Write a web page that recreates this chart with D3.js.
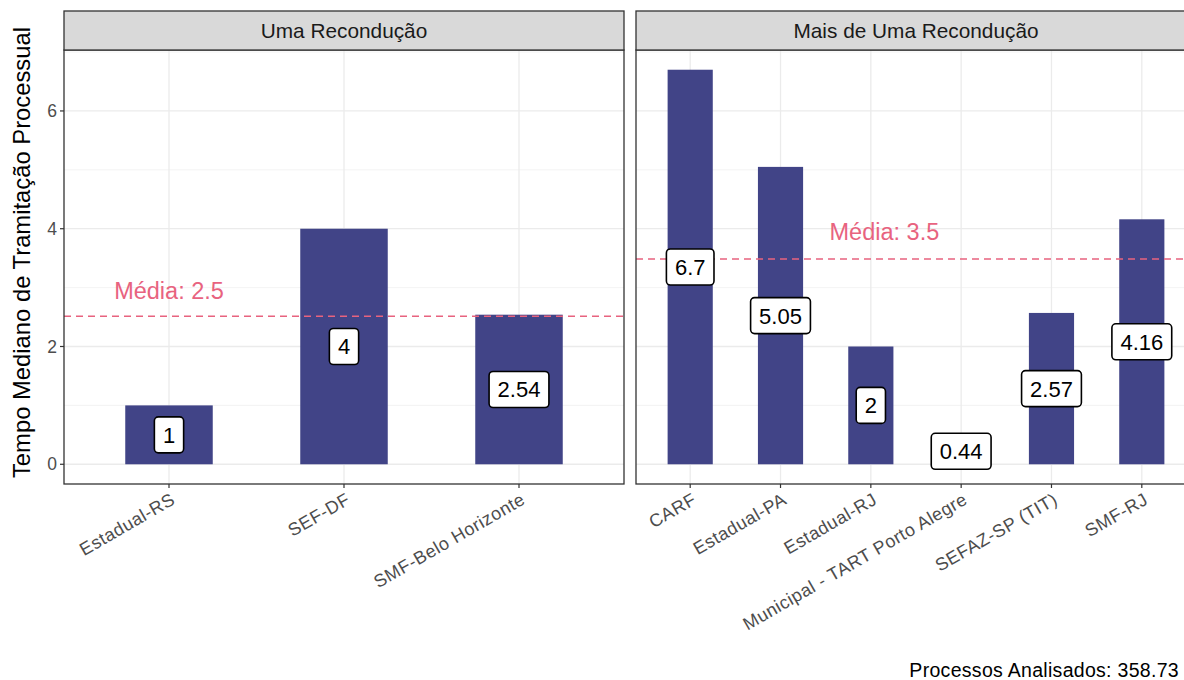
<!DOCTYPE html>
<html>
<head>
<meta charset="utf-8">
<script src="https://cdn.jsdelivr.net/npm/d3@7"></script>
<style>
  html, body { margin: 0; padding: 0; background: #ffffff; }
  svg { display: block; font-family: "Liberation Sans", Arial, sans-serif; }
</style>
</head>
<body>
<svg id="chart" width="1184" height="680"></svg>
<script>
// ---- data ----
const panelTitles = ["Uma Recondução", "Mais de Uma Recondução"];
const categoriesA = ["Estadual-RS", "SEF-DF", "SMF-Belo Horizonte"];
const valuesA = [1, 4, 2.54];
const categoriesB = ["CARF", "Estadual-PA", "Estadual-RJ", "Municipal - TART Porto Alegre", "SEFAZ-SP (TIT)", "SMF-RJ"];
const valuesB = [6.7, 5.05, 2, 0.44, 2.57, 4.16];
const meanLabelX = [1, 3.15];
const meanLabelY = [2.95, 3.95];
const yTicks = [0, 2, 4, 6];
const yMinor = [1, 3, 5, 7];
const yTitle = "Tempo Mediano de Tramitação Processual";
const caption = "Processos Analisados: 358.73";

// ---- layout ----
const svg = d3.select("#chart");
const panelTop = 50, panelBottom = 484, stripTop = 11;
const panelX = [[64, 624], [636, 1196]];
const barColor = "#414487";
const meanColor = "#E8637F";

const y = d3.scaleLinear().domain([-0.335, 7.035]).range([panelBottom, panelTop]);

const panels = [
  {title: panelTitles[0], cats: categoriesA, vals: valuesA, lx: meanLabelX[0], ly: meanLabelY[0]},
  {title: panelTitles[1], cats: categoriesB, vals: valuesB, lx: meanLabelX[1], ly: meanLabelY[1]}
];

panels.forEach((p, i) => {
  const [x0, x1] = panelX[i];
  const n = p.cats.length;
  const x = d3.scaleBand().domain(p.cats).range([x0, x1]).paddingInner(0.5).paddingOuter(0.35);
  const xLin = d3.scaleLinear().domain([0.4, n + 0.6]).range([x0, x1]);
  const g = svg.append("g");
  const cx = c => x(c) + x.bandwidth() / 2;

  g.append("rect").attr("x", x0).attr("y", panelTop).attr("width", x1 - x0).attr("height", panelBottom - panelTop).attr("fill", "#fff");

  // minor grid
  g.selectAll(".ymin").data(yMinor.filter(v => y(v) > panelTop)).join("line")
    .attr("x1", x0).attr("x2", x1).attr("y1", d => y(d)).attr("y2", d => y(d))
    .attr("stroke", "#f0f0f0").attr("stroke-width", 0.8);
  // major grid
  g.selectAll(".ymaj").data(yTicks).join("line")
    .attr("x1", x0).attr("x2", x1).attr("y1", d => y(d)).attr("y2", d => y(d))
    .attr("stroke", "#ebebeb").attr("stroke-width", 1.3);
  g.selectAll(".xmaj").data(p.cats).join("line")
    .attr("x1", d => cx(d)).attr("x2", d => cx(d)).attr("y1", panelTop).attr("y2", panelBottom)
    .attr("stroke", "#ebebeb").attr("stroke-width", 1.3);

  // bars
  g.selectAll(".bar").data(p.cats).join("rect")
    .attr("x", d => x(d)).attr("width", x.bandwidth())
    .attr("y", (d, j) => y(p.vals[j])).attr("height", (d, j) => y(0) - y(p.vals[j]))
    .attr("fill", barColor);

  // mean line
  const m = d3.mean(p.vals);
  g.append("line").attr("x1", x0).attr("x2", x1).attr("y1", y(m)).attr("y2", y(m))
    .attr("stroke", meanColor).attr("stroke-width", 1.4).attr("stroke-dasharray", "7,5");
  g.append("text").attr("x", xLin(p.lx)).attr("y", y(p.ly)).attr("dy", "0.35em")
    .attr("text-anchor", "middle").attr("font-size", 23.5).attr("fill", meanColor)
    .text("Média: " + d3.format(".1f")(m));

  // value labels
  p.cats.forEach((c, j) => {
    const v = p.vals[j];
    const lg = g.append("g").attr("transform", `translate(${cx(c)},${y(v / 2)})`);
    const t = lg.append("text").attr("text-anchor", "middle").attr("dy", "0.36em")
      .attr("font-size", 22).attr("fill", "#000").text(String(v));
    const w = t.node().getComputedTextLength();
    lg.insert("rect", "text").attr("x", -w / 2 - 8.5).attr("y", -18).attr("width", w + 17).attr("height", 36)
      .attr("rx", 4).attr("ry", 4).attr("fill", "#fff").attr("stroke", "#000").attr("stroke-width", 1.6);
  });

  // panel border
  g.append("rect").attr("x", x0).attr("y", panelTop).attr("width", x1 - x0).attr("height", panelBottom - panelTop)
    .attr("fill", "none").attr("stroke", "#333333").attr("stroke-width", 1.3);

  // strip
  g.append("rect").attr("x", x0).attr("y", stripTop).attr("width", x1 - x0).attr("height", panelTop - stripTop)
    .attr("fill", "#d9d9d9").attr("stroke", "#333333").attr("stroke-width", 1.3);
  g.append("text").attr("x", (x0 + x1) / 2).attr("y", (stripTop + panelTop) / 2).attr("dy", "0.35em")
    .attr("text-anchor", "middle").attr("font-size", 20.8).attr("fill", "#1a1a1a").text(p.title);

  // x axis ticks + labels
  g.selectAll(".xt").data(p.cats).join("line")
    .attr("x1", d => cx(d)).attr("x2", d => cx(d)).attr("y1", panelBottom).attr("y2", panelBottom + 4)
    .attr("stroke", "#333333").attr("stroke-width", 1.2);
  g.selectAll(".xl").data(p.cats).join("text")
    .attr("transform", d => `translate(${cx(d) + 1},${panelBottom + 8}) rotate(-30)`)
    .attr("text-anchor", "end").attr("dy", "0.71em")
    .attr("font-size", 18).attr("letter-spacing", 0.5).attr("fill", "#4d4d4d").text(d => d);

  // y axis (left panel only)
  if (i === 0) {
    g.selectAll(".yt").data(yTicks).join("line")
      .attr("x1", x0 - 4).attr("x2", x0).attr("y1", d => y(d)).attr("y2", d => y(d))
      .attr("stroke", "#333333").attr("stroke-width", 1.2);
    g.selectAll(".yl").data(yTicks).join("text")
      .attr("x", x0 - 7).attr("y", d => y(d)).attr("dy", "0.35em").attr("text-anchor", "end")
      .attr("font-size", 17.5).attr("fill", "#4d4d4d").text(d => d);
  }
});

// y title
svg.append("text").attr("transform", `translate(22,${(stripTop + panelBottom) / 2 + 5}) rotate(-90)`)
  .attr("text-anchor", "middle").attr("dy", "0.35em").attr("font-size", 23.8).attr("fill", "#000").text(yTitle);

// caption
svg.append("text").attr("x", 1179).attr("y", 677).attr("text-anchor", "end")
  .attr("font-size", 19.5).attr("letter-spacing", 0.3).attr("fill", "#000").text(caption);
</script>
</body>
</html>
